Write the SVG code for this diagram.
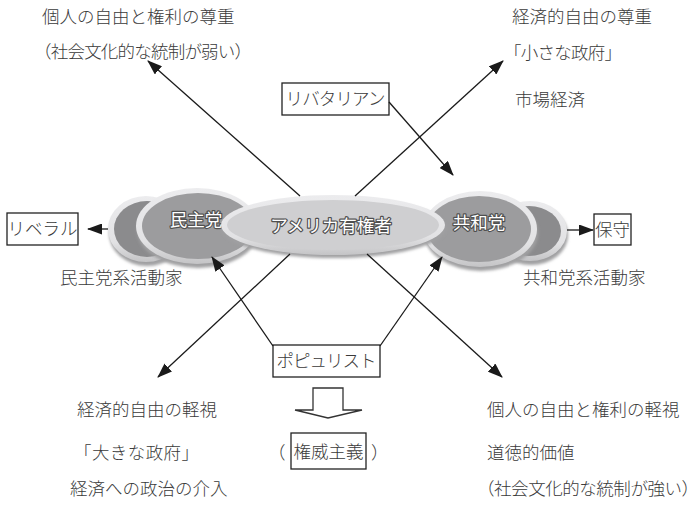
<svg xmlns="http://www.w3.org/2000/svg" width="699" height="514" viewBox="0 0 699 514">
<style>
text{font-family:"Noto Sans CJK JP","Noto Sans CJK SC",sans-serif;font-size:17.5px;font-weight:300;fill:#3a3a3a;}
.lbl{text-anchor:middle;}
.on{fill:#fff;stroke:#505050;stroke-width:2.4px;paint-order:stroke;stroke-linejoin:round;text-anchor:middle;font-weight:400;}
.box{fill:#fff;stroke:#222;stroke-width:1.3;}
.rim{fill:url(#rimg);}
.shadow{fill:#a0a0a2;filter:url(#blur);}
.dark{fill:#8b8b8d;}
.mid{fill:#9c9c9e;}
.light{fill:#cfcfd1;}
.conn line{stroke:#1a1a1a;stroke-width:1.3;marker-end:url(#ah);}
</style>
<defs>
<filter id="blur" x="-20%" y="-20%" width="140%" height="140%"><feGaussianBlur stdDeviation="1.5"/></filter>
<linearGradient id="rimg" x1="0" y1="0" x2="0" y2="1"><stop offset="0" stop-color="#ececee"/><stop offset="0.7" stop-color="#e2e2e4"/><stop offset="1" stop-color="#c4c4c6"/></linearGradient>
<marker id="ah" markerUnits="userSpaceOnUse" markerWidth="15" markerHeight="11" refX="14" refY="5.5" orient="auto"><path d="M0,0 L15,5.5 L0,11 z" fill="#1a1a1a"/></marker>
</defs>

<g id="top-left">
<text x="42" y="23">個人の自由と権利の尊重</text>
<text x="34" y="58" textLength="218" lengthAdjust="spacing">（社会文化的な統制が弱い）</text>
</g>
<g id="top-right">
<text x="512" y="23">経済的自由の尊重</text>
<text x="504" y="59" textLength="118" lengthAdjust="spacing">「小さな政府」</text>
<text x="515" y="106">市場経済</text>
</g>

<g id="libertarian">
<rect class="box" x="282" y="83" width="107" height="32"/>
<text class="lbl" x="335.5" y="105" textLength="100" lengthAdjust="spacing">リバタリアン</text>
</g>
<g id="liberal">
<rect class="box" x="7" y="213" width="71" height="32"/>
<text class="lbl" x="42.5" y="235">リベラル</text>
</g>
<g id="conservative">
<rect class="box" x="594" y="214" width="37" height="31"/>
<text class="lbl" x="612.5" y="236">保守</text>
</g>

<g id="dem-activists">
<ellipse class="shadow" cx="147" cy="233" rx="38" ry="33"/>
<ellipse class="rim" cx="146" cy="229" rx="38" ry="33"/>
<ellipse class="dark" cx="147" cy="229" rx="33" ry="28"/>
</g>
<g id="democrat">
<ellipse class="shadow" cx="198" cy="230" rx="61" ry="38"/>
<ellipse class="rim" cx="197" cy="226" rx="61" ry="38"/>
<ellipse class="mid" cx="198" cy="226" rx="56" ry="33"/>
<text class="on" x="196" y="226">民主党</text>
</g>
<g id="rep-activists">
<ellipse class="shadow" cx="531" cy="235" rx="37" ry="30"/>
<ellipse class="rim" cx="530" cy="231" rx="37" ry="30"/>
<ellipse class="dark" cx="529" cy="231" rx="32" ry="25"/>
</g>
<g id="republican">
<ellipse class="shadow" cx="481" cy="233" rx="57" ry="38"/>
<ellipse class="rim" cx="480" cy="229" rx="57" ry="38"/>
<ellipse class="mid" cx="479" cy="229" rx="52" ry="33"/>
<text class="on" x="479" y="229">共和党</text>
</g>
<g id="voters">
<ellipse class="shadow" cx="334" cy="228" rx="112" ry="30"/>
<ellipse class="rim" cx="333" cy="225" rx="112" ry="30"/>
<ellipse class="light" cx="333" cy="225" rx="106" ry="25"/>
<text class="on" x="331" y="232">アメリカ有権者</text>
</g>

<g id="dem-activists-label"><text x="60" y="284">民主党系活動家</text></g>
<g id="rep-activists-label"><text x="523" y="284">共和党系活動家</text></g>

<g id="populist">
<rect class="box" x="273" y="345" width="107" height="32"/>
<text class="lbl" x="326.5" y="367" textLength="100" lengthAdjust="spacing">ポピュリスト</text>
</g>

<g id="down-arrow">
<polygon points="313,388 343,388 343,410 362,410 328,418 295,410 313,410" fill="#fff" stroke="#333" stroke-width="1.3"/>
</g>

<g id="bottom-left">
<text x="77" y="416">経済的自由の軽視</text>
<text x="74" y="459" textLength="125" lengthAdjust="spacing">「大きな政府」</text>
<text x="70" y="495">経済への政治の介入</text>
</g>
<g id="authoritarianism">
<text x="268" y="459">（</text>
<rect class="box" x="291" y="433" width="75" height="36"/>
<text class="lbl" x="328.5" y="458">権威主義</text>
<text x="371" y="459">）</text>
</g>
<g id="bottom-right">
<text x="487" y="416">個人の自由と権利の軽視</text>
<text x="487" y="459">道徳的価値</text>
<text x="477" y="495" textLength="222" lengthAdjust="spacing">（社会文化的な統制が強い）</text>
</g>

<g id="connectors" class="conn">
<line x1="300" y1="196" x2="148" y2="61"/>
<line x1="355" y1="196" x2="503" y2="61"/>
<line x1="389" y1="102" x2="453" y2="175"/>
<line x1="108" y1="229" x2="88" y2="229"/>
<line x1="567" y1="230" x2="593" y2="230"/>
<line x1="290" y1="254" x2="158" y2="377"/>
<line x1="367" y1="254" x2="502" y2="377"/>
<line x1="273" y1="346" x2="212" y2="257"/>
<line x1="380" y1="346" x2="442" y2="257"/>
</g>
</svg>
